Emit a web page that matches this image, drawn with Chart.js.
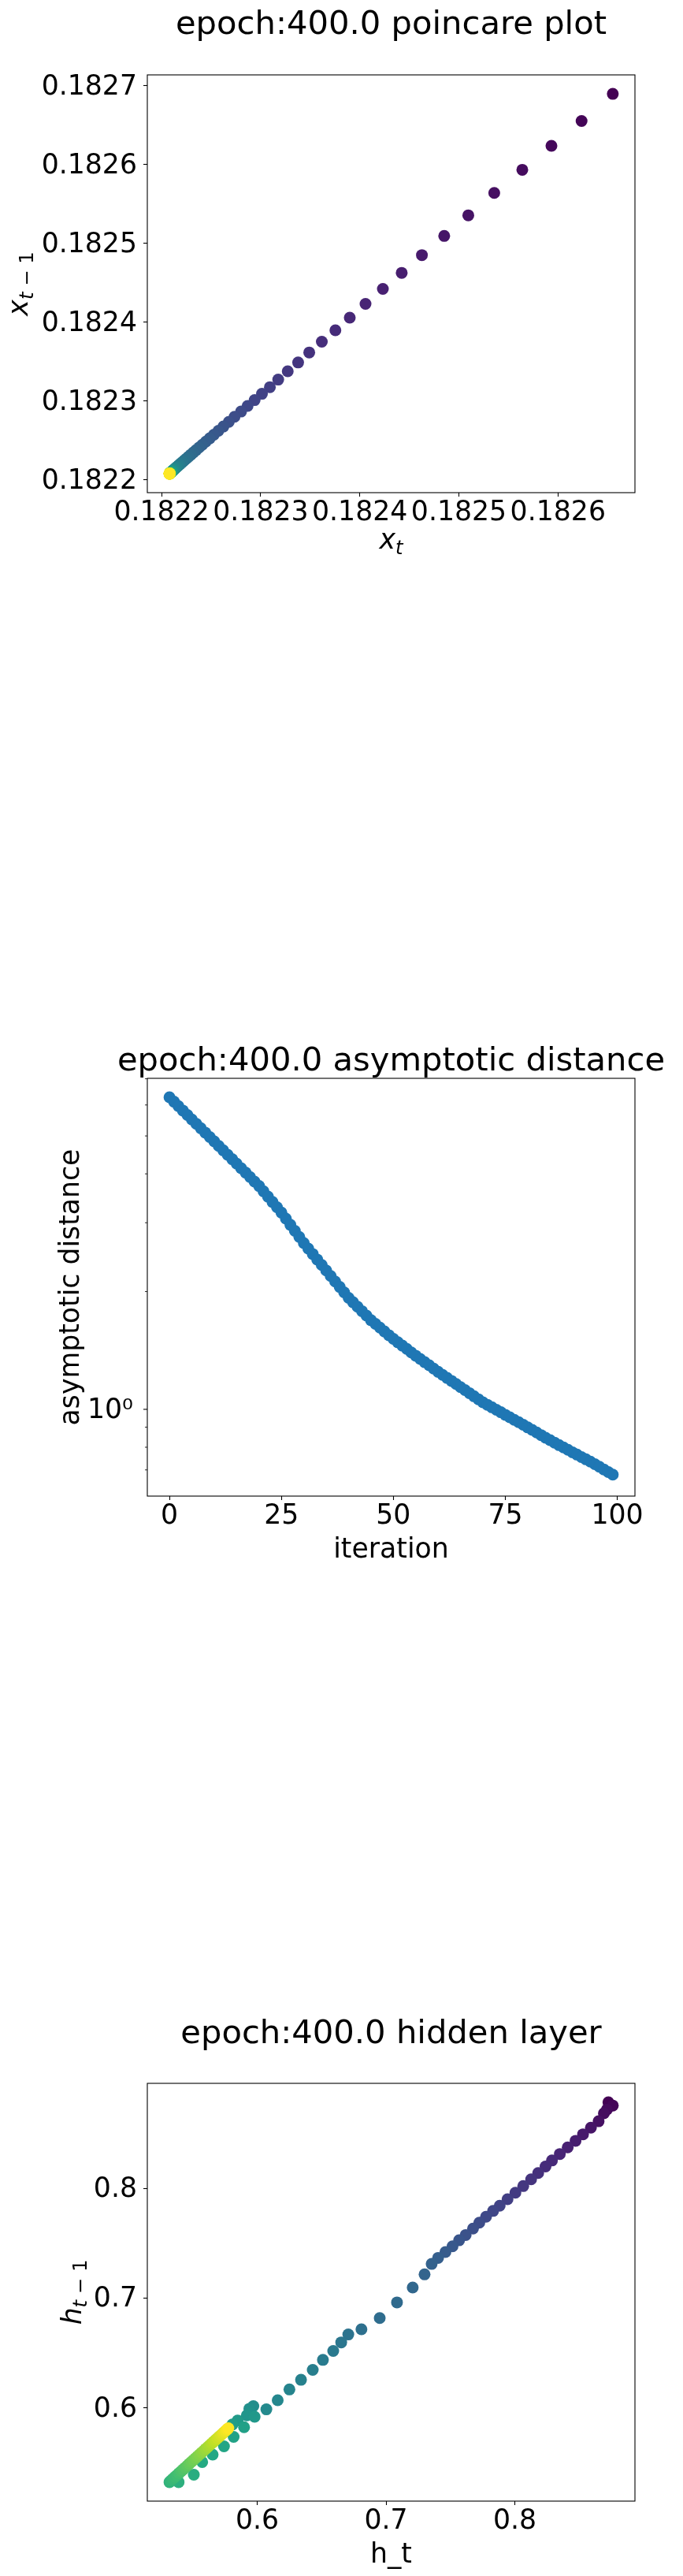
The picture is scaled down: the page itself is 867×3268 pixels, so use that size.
<!DOCTYPE html>
<html>
<head>
<meta charset="utf-8">
<title>epoch 400 plots</title>
<script src="https://cdn.jsdelivr.net/npm/chart.js@4.4.0/dist/chart.umd.min.js"></script>
<style>
  html, body { margin: 0; padding: 0; background: #fff; }
  body { width: 867px; height: 3268px; position: relative; overflow: hidden; }
  canvas { position: absolute; left: 0; width: 867px; height: 720px; }
</style>
</head>
<body>
<canvas id="poincareChart" width="867" height="720" style="top:0px"></canvas>
<canvas id="distanceChart" width="867" height="720" style="top:1273px"></canvas>
<canvas id="hiddenChart" width="867" height="720" style="top:2548px"></canvas>
<script>
// x_t sequence for the poincare plot (points are x_t against x_{t-1})
const xSeries = [
  0.1826897, 0.1826553, 0.1826238, 0.1825934, 0.1825640, 0.1825357, 0.1825095, 0.1824852, 0.1824627, 0.1824423,
  0.1824233, 0.1824058, 0.1823899, 0.1823754, 0.1823617, 0.1823490, 0.1823378, 0.1823273, 0.1823177, 0.1823093,
  0.1823013, 0.1822939, 0.1822868, 0.1822802, 0.1822736, 0.1822678, 0.1822624, 0.1822574, 0.1822528, 0.1822486,
  0.1822447, 0.1822411, 0.1822378, 0.1822348, 0.1822320, 0.1822295, 0.1822272, 0.1822251, 0.1822232, 0.1822215,
  0.1822199, 0.1822185, 0.1822172, 0.1822161, 0.1822151, 0.1822142, 0.1822134, 0.1822127, 0.1822121, 0.1822116,
  0.1822111, 0.1822107, 0.1822103, 0.1822100, 0.1822097, 0.1822095, 0.1822093, 0.1822091, 0.1822089, 0.1822088,
  0.18220870, 0.18220866, 0.18220862, 0.18220858, 0.18220855, 0.18220852, 0.18220849, 0.18220846, 0.18220843, 0.18220840,
  0.18220838, 0.18220836, 0.18220834, 0.18220832, 0.18220830, 0.18220828, 0.18220826, 0.18220824, 0.18220822, 0.18220820,
  0.18220819, 0.18220818, 0.18220816, 0.18220815, 0.18220813, 0.18220812, 0.18220811, 0.18220810, 0.18220809, 0.18220808,
  0.18220807, 0.18220806, 0.18220805, 0.18220804, 0.18220803, 0.18220802, 0.18220801, 0.18220800, 0.18220799, 0.18220798
];
const poincareXTicks = [0.1822, 0.1823, 0.1824, 0.1825, 0.1826];
const poincareYTicks = [0.1822, 0.1823, 0.1824, 0.1825, 0.1826, 0.1827];

// asymptotic distance per iteration (log axis)
const asymDistance = [
  6.281, 6.118, 5.960, 5.806, 5.656, 5.508, 5.368, 5.231, 5.098, 4.968,
  4.842, 4.716, 4.594, 4.475, 4.360, 4.246, 4.136, 4.029, 3.925, 3.823,
  3.724, 3.609, 3.498, 3.390, 3.286, 3.184, 3.072, 2.963, 2.859, 2.758,
  2.661, 2.576, 2.495, 2.415, 2.339, 2.265, 2.193, 2.123, 2.056, 1.991,
  1.928, 1.878, 1.829, 1.782, 1.736, 1.690, 1.654, 1.618, 1.582, 1.547,
  1.514, 1.484, 1.455, 1.427, 1.398, 1.371, 1.345, 1.320, 1.296, 1.271,
  1.247, 1.225, 1.203, 1.182, 1.161, 1.140, 1.120, 1.100, 1.080, 1.061,
  1.042, 1.027, 1.012, 0.997, 0.983, 0.968, 0.954, 0.940, 0.927, 0.913,
  0.899, 0.886, 0.873, 0.859, 0.846, 0.834, 0.822, 0.810, 0.799, 0.788,
  0.776, 0.766, 0.755, 0.745, 0.735, 0.724, 0.713, 0.702, 0.691, 0.681
];
const iterationTicks = [0, 25, 50, 75, 100];
const distanceTicks = [0.7, 0.8, 0.9, 1, 2, 3, 4, 5, 6, 7];
const distanceMajor = [1];

// hidden layer: h_t and h_{t-1}
const hT = [
  0.8726, 0.8760, 0.8715, 0.8691, 0.8650, 0.8590, 0.8529, 0.8471, 0.8410, 0.8349,
  0.8288, 0.8238, 0.8181, 0.8126, 0.8065, 0.8004, 0.7943, 0.7882, 0.7831, 0.7776,
  0.7724, 0.7675, 0.7618, 0.7567, 0.7516, 0.7461, 0.7404, 0.7354, 0.7299, 0.7207,
  0.7085, 0.6951, 0.6809, 0.6707, 0.6652, 0.6590, 0.6510, 0.6431, 0.6340, 0.6250,
  0.6159, 0.6071, 0.5970, 0.5939, 0.5949, 0.5919, 0.5980, 0.5848, 0.5807, 0.5898,
  0.5817, 0.5742, 0.5654, 0.5573, 0.5508, 0.5390, 0.5319,
  0.5330, 0.5345, 0.5361, 0.5377, 0.5393, 0.5409, 0.5425, 0.5441, 0.5457, 0.5473,
  0.5489, 0.5505, 0.5521, 0.5537, 0.5553, 0.5569, 0.5585, 0.5601, 0.5617, 0.5632,
  0.5647, 0.5662, 0.5677, 0.5691, 0.5705, 0.5718, 0.5731, 0.5743, 0.5755, 0.5766,
  0.5776
];
const hPrev = [
  0.8781, 0.8752, 0.8716, 0.8681, 0.8609, 0.8550, 0.8490, 0.8431, 0.8371, 0.8311,
  0.8252, 0.8197, 0.8138, 0.8081, 0.8019, 0.7959, 0.7900, 0.7840, 0.7793, 0.7740,
  0.7686, 0.7633, 0.7574, 0.7526, 0.7471, 0.7419, 0.7366, 0.7311, 0.7216, 0.7097,
  0.6961, 0.6819, 0.6716, 0.6669, 0.6597, 0.6519, 0.6438, 0.6347, 0.6257, 0.6169,
  0.6071, 0.5988, 0.6017, 0.5993, 0.5957, 0.5933, 0.5921, 0.5886, 0.5850, 0.5826,
  0.5738, 0.5652, 0.5576, 0.5509, 0.5393, 0.5326, 0.5326,
  0.5340, 0.5356, 0.5373, 0.5390, 0.5407, 0.5424, 0.5441, 0.5458, 0.5476, 0.5493,
  0.5510, 0.5527, 0.5544, 0.5561, 0.5578, 0.5595, 0.5612, 0.5629, 0.5646, 0.5662,
  0.5678, 0.5694, 0.5710, 0.5725, 0.5740, 0.5754, 0.5768, 0.5781, 0.5793, 0.5805,
  0.5816
];
const hiddenTicks = [0.6, 0.7, 0.8];

const FONT = "'DejaVu Sans', sans-serif";
const TICK_SIZE = 34.7;
const TITLE_SIZE = 41.7;

// viridis colour stops, picked by position 0..1
const VIRIDIS = [
  [68, 1, 84], [72, 36, 117], [65, 68, 135], [53, 95, 141], [42, 120, 142], [33, 145, 140],
  [34, 168, 132], [68, 191, 112], [122, 209, 81], [189, 223, 38], [253, 231, 37]
];
function viridis(t) {
  const p = Math.min(Math.max(t, 0), 1) * (VIRIDIS.length - 1);
  const i = Math.min(Math.floor(p), VIRIDIS.length - 2);
  const f = p - i;
  const c = VIRIDIS[i].map((v, k) => Math.round(v + (VIRIDIS[i + 1][k] - v) * f));
  return `rgb(${c[0]},${c[1]},${c[2]})`;
}

// matplotlib-like 5% autoscale margins
function padRange(values) {
  const lo = Math.min(...values), hi = Math.max(...values);
  const m = (hi - lo) * 0.05;
  return [lo - m, hi + m];
}
function padLogRange(values) {
  const [lo, hi] = padRange(values.map((v) => Math.log10(v)));
  return [Math.pow(10, lo), Math.pow(10, hi)];
}

// draw text made of parts (italic / subscript), centred on cx, baseline y
function drawRich(ctx, parts, cx, y, size) {
  let total = 0;
  const items = parts.map((p) => {
    const s = p.sub ? size * 0.7 : size;
    const font = (p.it ? "italic " : "") + s + "px " + FONT;
    ctx.font = font;
    const w = ctx.measureText(p.t).width;
    total += w;
    return { t: p.t, font, w, dy: p.sub ? size * 0.2 : 0 };
  });
  let x = cx - total / 2;
  ctx.textAlign = "left";
  ctx.textBaseline = "alphabetic";
  items.forEach((it) => {
    ctx.font = it.font;
    ctx.fillText(it.t, x, y + it.dy);
    x += it.w;
  });
}

// frame, title, axis labels and (for the log axis) major/minor tick marks
const decor = {
  id: "decor",
  afterDraw(chart, args, opts) {
    const { ctx, chartArea: a } = chart;
    const cx = (a.left + a.right) / 2;
    const cy = (a.top + a.bottom) / 2;
    ctx.save();
    ctx.fillStyle = "#000";
    ctx.strokeStyle = "#000";

    if (opts.logTicks) {
      const ys = chart.scales.y;
      ys.ticks.forEach((t) => {
        const major = opts.logTicks.includes(t.value);
        const py = ys.getPixelForValue(t.value);
        ctx.lineWidth = major ? 1.1 : 0.85;
        ctx.beginPath();
        ctx.moveTo(a.left, py);
        ctx.lineTo(a.left - (major ? 5 : 3), py);
        ctx.stroke();
      });
    }

    ctx.lineWidth = 1.1;
    ctx.strokeRect(a.left, a.top, a.right - a.left, a.bottom - a.top);

    ctx.font = TITLE_SIZE + "px " + FONT;
    ctx.textAlign = "center";
    ctx.textBaseline = "alphabetic";
    ctx.fillText(opts.title, cx, opts.titleY);

    drawRich(ctx, opts.xLabel, cx, opts.xLabelY, TICK_SIZE);

    ctx.translate(opts.yLabelX, cy);
    ctx.rotate(-Math.PI / 2);
    drawRich(ctx, opts.yLabel, 0, 0, TICK_SIZE);
    ctx.restore();
  }
};

function tickFont() {
  return { family: FONT, size: TICK_SIZE, lineHeight: 1.2 };
}

function xAxis(range, tickValues, fmt) {
  return {
    type: "linear",
    position: "bottom",
    min: range[0],
    max: range[1],
    afterBuildTicks: (s) => { s.ticks = tickValues.map((v) => ({ value: v })); },
    afterFit: (s) => { s.height = 95; },
    grid: { display: true, drawOnChartArea: false, drawTicks: true, tickLength: 5, tickColor: "#000", tickWidth: 1.1 },
    border: { display: false },
    ticks: {
      color: "#000", font: tickFont(),
      autoSkip: false, maxRotation: 0, minRotation: 0, padding: 0,
      callback: fmt
    }
  };
}

function yAxis(range, tickValues, fmt, type) {
  const log = type === "logarithmic";
  return {
    type: type || "linear",
    position: "left",
    min: range[0],
    max: range[1],
    afterBuildTicks: (s) => { s.ticks = tickValues.map((v) => ({ value: v })); },
    afterFit: (s) => { s.width = 187; },
    // log axis ticks are drawn by the decor plugin (major and minor lengths)
    grid: { display: !log, drawOnChartArea: false, drawTicks: true, tickLength: 5, tickColor: "#000", tickWidth: 1.1 },
    border: { display: false },
    ticks: {
      color: "#000", font: tickFont(),
      autoSkip: false, padding: log ? 13 : 8, labelOffset: 2,
      callback: fmt
    }
  };
}

function baseOptions(scales, decorOpts) {
  return {
    responsive: false,
    animation: false,
    events: [],
    layout: { padding: { top: 95, right: 61, left: 0, bottom: 0 } },
    plugins: { legend: { display: false }, tooltip: { enabled: false }, title: { display: false }, decor: decorOpts },
    scales
  };
}

// poincare plot
const poincarePoints = xSeries.slice(1).map((v, i) => ({ x: v, y: xSeries[i] }));
const poincareColors = poincarePoints.map((p, i) => viridis(i / (poincarePoints.length - 1)));
new Chart(document.getElementById("poincareChart"), {
  type: "scatter",
  data: {
    datasets: [{
      data: poincarePoints,
      pointRadius: 7.5,
      pointBorderWidth: 0,
      pointBackgroundColor: poincareColors,
      pointBorderColor: poincareColors
    }]
  },
  options: baseOptions({
    x: xAxis(padRange(poincarePoints.map((p) => p.x)), poincareXTicks, (v) => Number(v).toFixed(4)),
    y: yAxis(padRange(poincarePoints.map((p) => p.y)), poincareYTicks, (v) => Number(v).toFixed(4))
  }, {
    title: "epoch:400.0 poincare plot",
    titleY: 43,
    xLabel: [{ t: "x", it: true }, { t: "t", it: true, sub: true }],
    xLabelY: 696,
    yLabel: [{ t: "x", it: true }, { t: "t", it: true, sub: true }, { t: " \u2212 1", sub: true }],
    yLabelX: 35
  }),
  plugins: [decor]
});

// asymptotic distance
const distancePoints = asymDistance.map((v, i) => ({ x: i, y: v }));
new Chart(document.getElementById("distanceChart"), {
  type: "scatter",
  data: {
    datasets: [{
      data: distancePoints,
      pointRadius: 7.5,
      pointBorderWidth: 0,
      pointBackgroundColor: "#1f77b4",
      pointBorderColor: "#1f77b4"
    }]
  },
  options: baseOptions({
    x: xAxis(padRange(distancePoints.map((p) => p.x)), iterationTicks, (v) => String(v)),
    y: yAxis(padLogRange(asymDistance), distanceTicks, (v) => (distanceMajor.includes(v) ? "10\u2070" : ""), "logarithmic")
  }, {
    title: "epoch:400.0 asymptotic distance",
    titleY: 85,
    xLabel: [{ t: "iteration" }],
    xLabelY: 703,
    yLabel: [{ t: "asymptotic distance" }],
    yLabelX: 100,
    logTicks: distanceMajor
  }),
  plugins: [decor]
});

// hidden layer
const hiddenPoints = hT.map((v, i) => ({ x: v, y: hPrev[i] }));
const hiddenColors = hiddenPoints.map((p, i) => viridis(i / (hiddenPoints.length - 1)));
new Chart(document.getElementById("hiddenChart"), {
  type: "scatter",
  data: {
    datasets: [{
      data: hiddenPoints,
      pointRadius: 7.5,
      pointBorderWidth: 0,
      pointBackgroundColor: hiddenColors,
      pointBorderColor: hiddenColors
    }]
  },
  options: baseOptions({
    x: xAxis(padRange(hT), hiddenTicks, (v) => Number(v).toFixed(1)),
    y: yAxis(padRange(hPrev), hiddenTicks, (v) => Number(v).toFixed(1))
  }, {
    title: "epoch:400.0 hidden layer",
    titleY: 44,
    xLabel: [{ t: "h_t" }],
    xLabelY: 703,
    yLabel: [{ t: "h", it: true }, { t: "t", it: true, sub: true }, { t: " \u2212 1", sub: true }],
    yLabelX: 103
  }),
  plugins: [decor]
});
</script>
</body>
</html>
